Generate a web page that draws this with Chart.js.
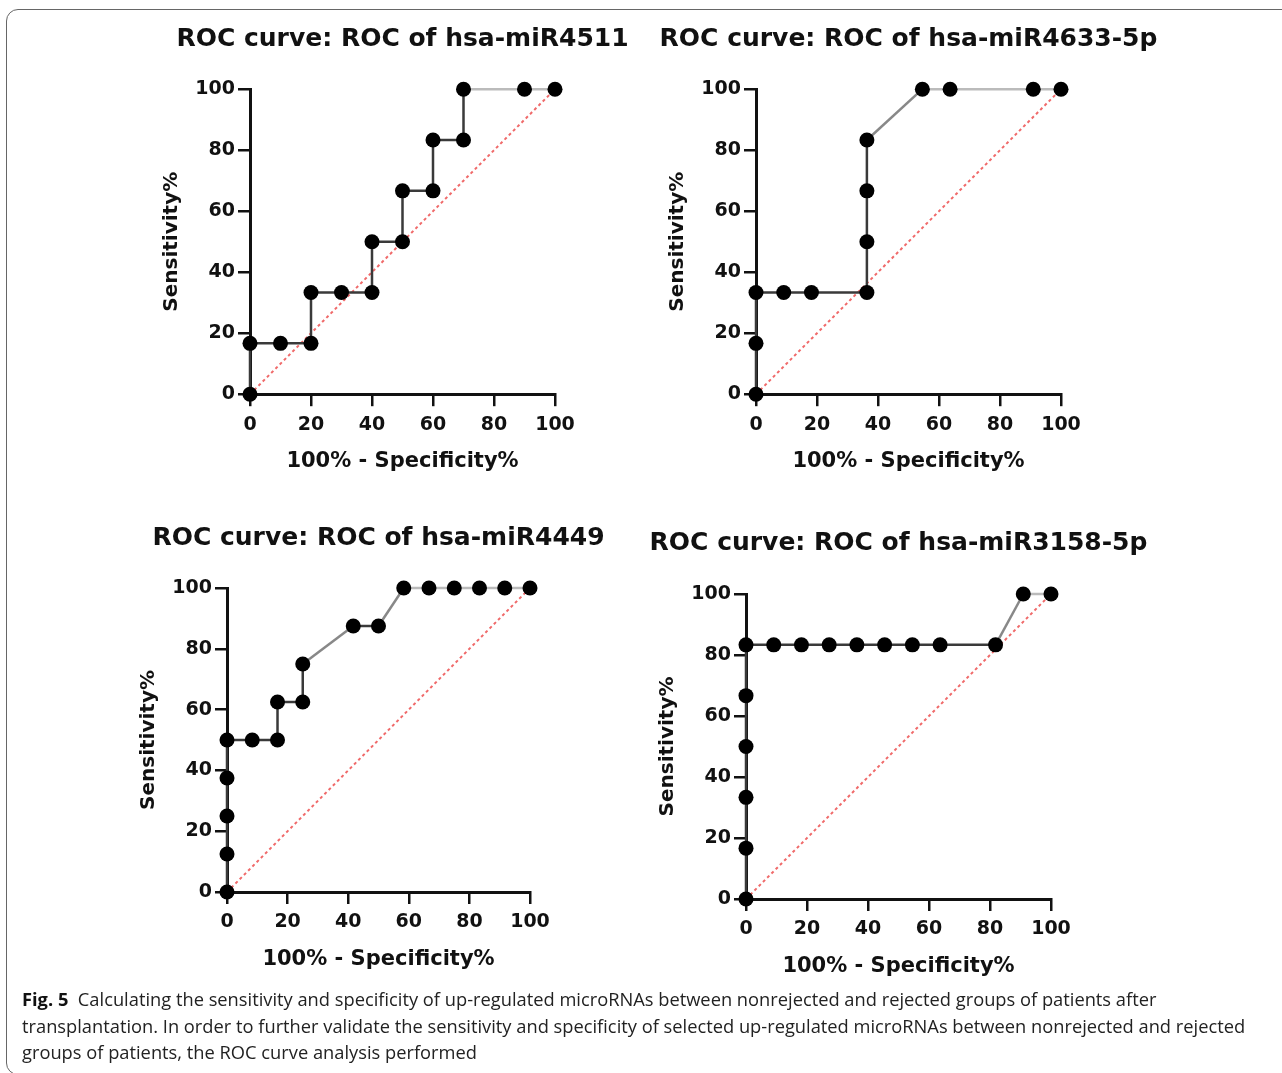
<!DOCTYPE html>
<html>
<head>
<meta charset="utf-8">
<script src="https://cdn.jsdelivr.net/npm/chart.js@4.4.0/dist/chart.umd.min.js"></script>
<style>
body { margin:0; width:1282px; height:1073px; overflow:hidden; background:#fff; position:relative; }
.frame { position:absolute; left:6px; top:9px; width:1320px; height:1064px; border:1.5px solid #666; border-radius:12px; }
.box { position:absolute; }
.caption { position:absolute; left:22px; top:986px; font-family:'Open Sans'; font-size:18.3px; line-height:26.5px; color:#222; white-space:nowrap; }
.caption b { color:#111; }
</style>
</head>
<body>
<div class="frame"></div>
<div class="box" id="c1"><canvas></canvas></div>
<div class="box" id="c2"><canvas></canvas></div>
<div class="box" id="c3"><canvas></canvas></div>
<div class="box" id="c4"><canvas></canvas></div>
<div class="caption">
<div><b>Fig. 5</b>&nbsp; Calculating the sensitivity and specificity of up-regulated microRNAs between nonrejected and rejected groups of patients after</div>
<div>transplantation. In order to further validate the sensitivity and specificity of selected up-regulated microRNAs between nonrejected and rejected</div>
<div>groups of patients, the ROC curve analysis performed</div>
</div>
<script>
// values (100% - specificity, sensitivity)
const spec4511 = [0, 0, 10, 20, 20, 30, 40, 40, 50, 50, 60, 60, 70, 70, 90, 100]
const sens4511 = [0, 16.67, 16.67, 16.67, 33.33, 33.33, 33.33, 50, 50, 66.67, 66.67, 83.33, 83.33, 100, 100, 100]

const spec4633 = [0, 0, 0, 9.09, 18.18, 36.36, 36.36, 36.36, 36.36, 54.55, 63.64, 90.91, 100]
const sens4633 = [0, 16.67, 33.33, 33.33, 33.33, 33.33, 50, 66.67, 83.33, 100, 100, 100, 100]

const spec4449 = [0, 0, 0, 0, 0, 8.33, 16.67, 16.67, 25, 25, 41.67, 50, 58.33, 66.67, 75, 83.33, 91.67, 100]
const sens4449 = [0, 12.5, 25, 37.5, 50, 50, 50, 62.5, 62.5, 75, 87.5, 87.5, 100, 100, 100, 100, 100, 100]

const spec3158 = [0, 0, 0, 0, 0, 0, 9.09, 18.18, 27.27, 36.36, 45.45, 54.55, 63.64, 81.82, 90.91, 100]
const sens3158 = [0, 16.67, 33.33, 50, 66.67, 83.33, 83.33, 83.33, 83.33, 83.33, 83.33, 83.33, 83.33, 83.33, 100, 100]

const chanceLine = [0, 100]
const tickValues = [0, 20, 40, 60, 80, 100]

const xTitle = '100% - Specificity%'
const yTitle = 'Sensitivity%'

Chart.defaults.font.family = 'DejaVu Sans'
Chart.defaults.font.weight = 'bold'
Chart.defaults.color = '#111'

function axis(pos) {
    let isX = pos === 'x'
    return {
        type: 'linear',
        min: 0,
        max: 100,
        afterBuildTicks: s => { s.ticks = tickValues.map(v => ({ value: v })) },
        afterFit: s => { if (isX) s.height = 90; else s.width = 100 },
        grid: { display: true, drawOnChartArea: false, drawTicks: true, tickLength: 12, color: '#111', lineWidth: 2.5 },
        border: { display: true, color: '#111', width: 3 },
        ticks: { color: '#111', padding: isX ? 7 : 3, autoSkip: false, maxRotation: 0, font: { size: 19, weight: 'bold' } },
        title: {
            display: true,
            text: isX ? xTitle : yTitle,
            color: '#111',
            font: { size: isX ? 21 : 20, weight: 'bold' },
            padding: isX ? { top: 0, bottom: 10 } : { top: 10, bottom: 0 }
        }
    }
}

function lineColor(ctx) {
    let a = ctx.p0.parsed, b = ctx.p1.parsed
    if (a.y === 100 && b.y === 100) return '#bbb'
    if (a.x !== b.x && a.y !== b.y) return '#888'
    return '#3a3a3a'
}

function drawRoc(id, title, xs, ys, plot, titleY) {
    let box = document.getElementById(id)
    let top = titleY - 40
    box.style.left = (plot.l - 100) + 'px'
    box.style.top = top + 'px'
    box.style.width = (plot.r - plot.l + 200) + 'px'
    box.style.height = (plot.b + 90 - top) + 'px'

    new Chart(box.querySelector('canvas'), {
        type: 'scatter',
        data: {
            datasets: [{
                data: xs.map((x, i) => ({ x: x, y: ys[i] })),
                showLine: true,
                borderColor: '#3a3a3a',
                borderWidth: 2.5,
                segment: { borderColor: lineColor },
                pointRadius: 7.5,
                pointBackgroundColor: '#000',
                pointBorderWidth: 0,
                clip: false,
                order: 0
            }, {
                data: chanceLine.map(v => ({ x: v, y: v })),
                showLine: true,
                borderColor: '#f06a6a',
                borderWidth: 2,
                borderDash: [3, 3],
                pointRadius: 0,
                clip: false,
                order: 1
            }]
        },
        options: {
            responsive: true,
            maintainAspectRatio: false,
            animation: false,
            events: [],
            layout: { padding: 0 },
            plugins: {
                legend: { display: false },
                tooltip: { enabled: false },
                title: {
                    display: true,
                    text: title,
                    color: '#111',
                    font: { size: 25, weight: 'bold' },
                    padding: { top: 25, bottom: plot.t - titleY - 15 }
                }
            },
            scales: {
                x: axis('x'),
                y: axis('y'),
                // empty right-hand box so the title centres over the plot
                y2: {
                    type: 'linear', position: 'right', display: true,
                    afterFit: s => { s.width = 100 },
                    grid: { display: false }, border: { display: false }, ticks: { display: false }
                }
            }
        }
    })
}

drawRoc('c1', 'ROC curve: ROC of hsa-miR4511', spec4511, sens4511, { l: 250, r: 555, t: 89, b: 394 }, 38.8)
drawRoc('c2', 'ROC curve: ROC of hsa-miR4633-5p', spec4633, sens4633, { l: 756, r: 1061, t: 89, b: 394 }, 38.8)
drawRoc('c3', 'ROC curve: ROC of hsa-miR4449', spec4449, sens4449, { l: 227, r: 530, t: 588, b: 892 }, 538)
drawRoc('c4', 'ROC curve: ROC of hsa-miR3158-5p', spec3158, sens3158, { l: 746, r: 1051, t: 594, b: 899 }, 543)
</script>
</body>
</html>
